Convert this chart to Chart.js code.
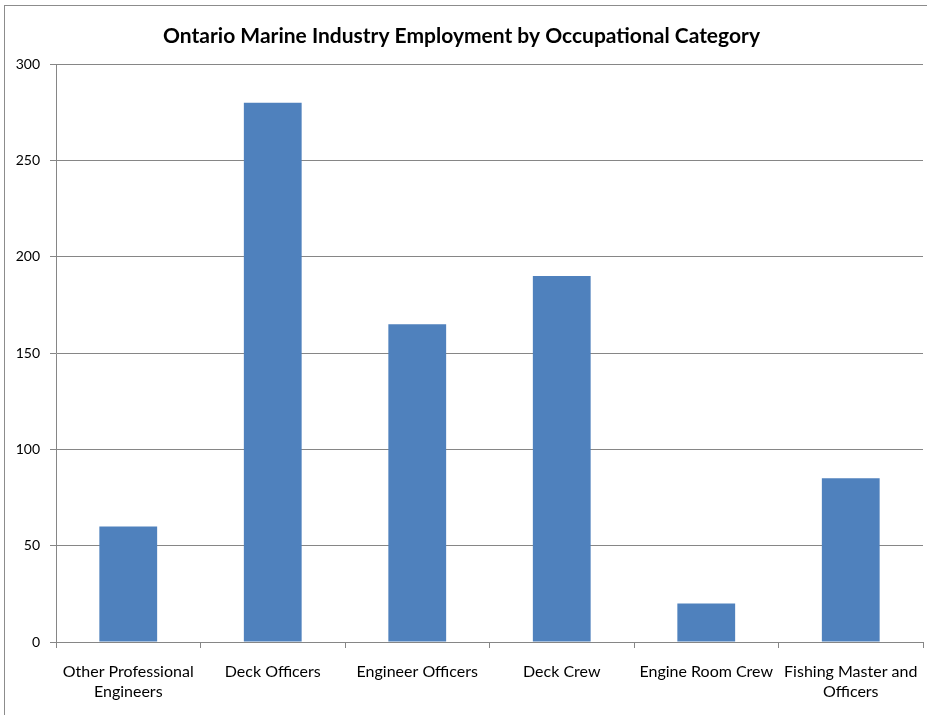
<!DOCTYPE html>
<html>
<head>
<meta charset="utf-8">
<script src="https://cdn.jsdelivr.net/npm/chart.js@4"></script>
<style>
  html, body { margin: 0; padding: 0; background: #fff; }
  #wrap { width: 927px; height: 715px; position: relative; }
</style>
</head>
<body>
<div id="wrap"><canvas id="chart"></canvas></div>
<script>
// Chart data
const categories = [
    ["Other Professional", "Engineers"],
    "Deck Officers",
    "Engineer Officers",
    "Deck Crew",
    "Engine Room Crew",
    ["Fishing Master and", "Officers"]
];
const employment = [60, 280, 165, 190, 20, 85];
const yTicks = [0, 50, 100, 150, 200, 250, 300];

const FONT = "Lato, 'Liberation Sans', sans-serif";
const GRID = "#868686";

// outer frame of the chart
const framePlugin = {
    id: "frame",
    beforeDraw(chart) {
        const ctx = chart.ctx;
        ctx.save();
        ctx.fillStyle = "#fff";
        ctx.fillRect(0, 0, chart.width, chart.height);
        ctx.strokeStyle = "#8c8c8c";
        ctx.lineWidth = 1;
        ctx.strokeRect(4.5, 5.5, chart.width + 10, chart.height + 10);
        ctx.restore();
    }
};

new Chart(document.getElementById("chart"), {
    type: "bar",
    data: {
        labels: categories,
        datasets: [{
            data: employment,
            backgroundColor: "#4F81BD",
            barPercentage: 0.4,
            categoryPercentage: 1
        }]
    },
    options: {
        responsive: true,
        maintainAspectRatio: false,
        animation: false,
        layout: { padding: { left: 0, right: 4, top: 0, bottom: 0 } },
        plugins: {
            legend: { display: false },
            tooltip: { enabled: false },
            title: {
                display: true,
                text: "Ontario Marine Industry Employment by Occupational Category",
                color: "#000",
                font: { family: FONT, size: 21, weight: "bold", lineHeight: 1.2 },
                padding: { top: 24, bottom: 15 }
            }
        },
        scales: {
            x: {
                grid: { display: true, drawOnChartArea: false, drawTicks: true, tickLength: 6, color: GRID, offset: true },
                border: { color: GRID },
                ticks: { color: "#000", font: { family: FONT, size: 16, lineHeight: 1.25 }, padding: 14, maxRotation: 0, autoSkip: false },
                afterFit(scale) {
                    scale.height = 73;
                    scale.paddingLeft = 0;
                    scale.paddingRight = 0;
                }
            },
            y: {
                min: 0,
                max: 300,
                afterBuildTicks(scale) { scale.ticks = yTicks.map(v => ({ value: v })); },
                grid: { color: GRID, tickLength: 6 },
                border: { color: GRID },
                ticks: { color: "#000", font: { family: FONT, size: 14 }, padding: 10 },
                afterFit(scale) { scale.width = 56; }
            }
        }
    },
    plugins: [framePlugin]
});
</script>
</body>
</html>
